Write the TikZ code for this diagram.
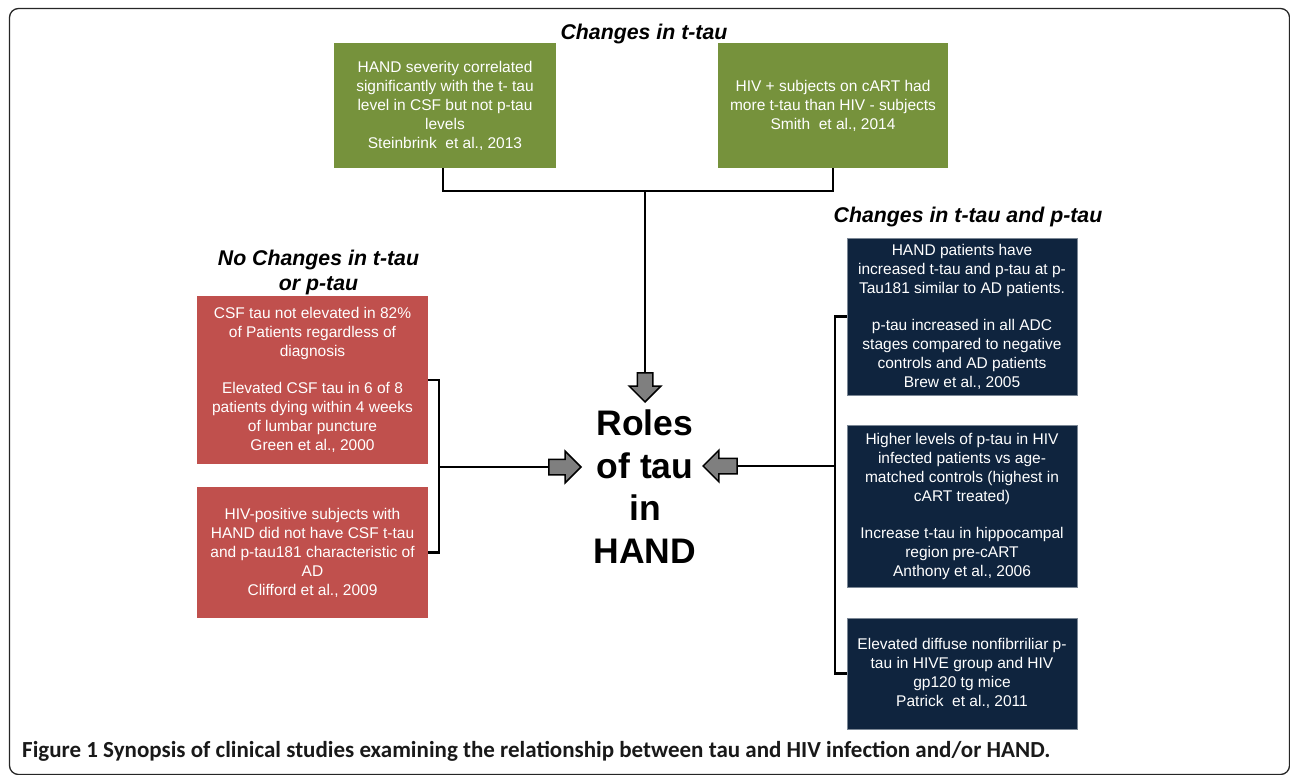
\documentclass[tikz,border=0pt]{standalone}
\usepackage{fontspec}
\setmainfont{Liberation Sans}
\newfontfamily\capfont{Carlito}
\usetikzlibrary{shapes.arrows}
\definecolor{boxgreen}{HTML}{76923C}
\definecolor{boxred}{HTML}{C0504D}
\definecolor{boxnavy}{HTML}{0F243E}
\definecolor{arrgray}{HTML}{7F7F7F}
\tikzset{
  box/.style={rectangle, text=white, align=center, inner sep=0pt,
    font=\fontsize{15.5}{19}\selectfont},
  heading/.style={align=center, inner sep=0pt,
    font=\bfseries\itshape\fontsize{21.3}{25}\selectfont},
  conn/.style={line width=2.5pt, black},
  blockarrow/.style={single arrow, draw=black, fill=arrgray, line width=1.5pt,
    inner sep=0pt, text height=14pt, text depth=0pt,
    single arrow head extend=8pt, anchor=tip},
}
\begin{document}
\begin{tikzpicture}[x=1pt, y=-1pt]
  \useasboundingbox (0,0) rectangle (1290,775);
  % frame
  \draw[gray!30!black, line width=1.3pt, rounded corners=9pt] (9.5,8.5) rectangle (1289.5,774.5);

  % headings
  \node[heading, anchor=base] (t1) at (644,40) {Changes in t-tau};
  \node[heading, anchor=base] (t2) at (968,223) {Changes in t-tau and p-tau};
  \node[heading] (t3) at (318.5,272) {No Changes in t-tau\\or p-tau};

  % t-tau (green)
  \node[box, fill=boxgreen, minimum width=222pt, minimum height=125pt] (g1) at (445,105.5)
    {HAND severity correlated\\significantly with the t- tau\\level in CSF but not p-tau\\levels\\Steinbrink~ et al., 2013};
  \node[box, fill=boxgreen, minimum width=230pt, minimum height=125pt] (g2) at (833,105.5)
    {HIV + subjects on cART had\\more t-tau than HIV - subjects\\Smith~ et al., 2014};

  % no changes (red)
  \node[box, fill=boxred, minimum width=231pt, minimum height=168pt] (r1) at (312.5,380)
    {CSF tau not elevated in 82\%\\of Patients regardless of\\diagnosis\\[18pt]Elevated CSF tau in 6 of 8\\patients dying within 4 weeks\\of lumbar puncture\\Green et al., 2000};
  \node[box, fill=boxred, minimum width=231pt, minimum height=131pt] (r2) at (312.5,552.5)
    {HIV-positive subjects with\\HAND did not have CSF t-tau\\and p-tau181 characteristic of\\AD\\Clifford et al., 2009};

  % t-tau and p-tau (navy)
  \begin{scope}[every node/.append style={fill=boxnavy, draw=boxnavy!55!white, line width=0.8pt, minimum width=230pt}]
    \node[box, minimum height=157pt] (b1) at (962,316.5)
      {HAND patients have\\increased t-tau and p-tau at p-\\Tau181 similar to AD patients.\\[18pt]p-tau increased in all ADC\\stages compared to negative\\controls and AD patients\\Brew et al., 2005};
    \node[box, minimum height=162pt] (b2) at (962,506)
      {Higher levels of p-tau in HIV\\infected patients vs age-\\matched controls (highest in\\cART treated)\\[18pt]Increase t-tau in hippocampal\\region pre-cART\\Anthony et al., 2006};
    \node[box, minimum height=111pt] (b3) at (962,673.5)
      {Elevated diffuse nonfibrriliar p-\\tau in HIVE group and HIV\\gp120 tg mice\\Patrick~ et al., 2011};
  \end{scope}

  % centre
  \node[align=center, inner sep=0pt, font=\bfseries\fontsize{35.5}{42.5}\selectfont] (roles) at (645,486.5)
    {Roles\\of tau\\in\\HAND};

  % joins
  \coordinate (tjoin) at (645,191);
  \coordinate (ljoin) at (439,467);
  \coordinate (rjoin) at (835,466);

  \node[blockarrow, rotate=-90, minimum height=29pt] (arrT) at (645,403) {};
  \node[blockarrow, minimum height=32pt] (arrL) at (582,467) {};
  \node[blockarrow, rotate=180, minimum height=34pt] (arrR) at (702,466) {};

  \draw[conn] ([xshift=-2pt]g1.south) -- ++(0,23) -| (g2.south);
  \draw[conn] (tjoin) -- (arrT.tail);
  \draw[conn] (r1.east) -| (ljoin) |- (r2.east);
  \draw[conn] (ljoin) -- (arrL.tail);
  \draw[conn] (b1.west) -| (rjoin) |- (b3.west);
  \draw[conn] (rjoin) -- (arrR.tail);

  % caption
  \node[anchor=base west, inner sep=0pt, text=black!90, font=\capfont\bfseries\fontsize{23}{27}\selectfont] (cap) at (22,757)
    {Figure 1 Synopsis of clinical studies examining the relationship between tau and HIV infection and/or HAND.};
\end{tikzpicture}
\end{document}
